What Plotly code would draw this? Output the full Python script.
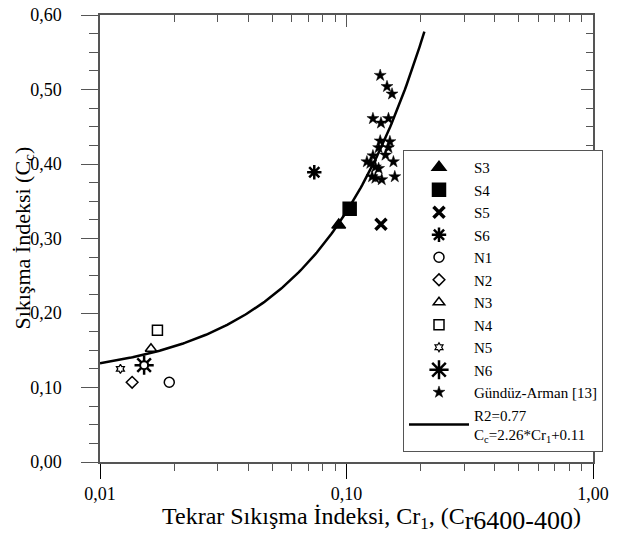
import plotly.graph_objects as go
import numpy as np

# ---- data ----
s3_x, s3_y = [0.093], [0.318]
s4_x, s4_y = [0.103], [0.340]
s5_x, s5_y = [0.138], [0.319]
s6_x, s6_y = [0.074], [0.389]
n1_x, n1_y = [0.0191], [0.107]
n2_x, n2_y = [0.0135], [0.107]
n3_x, n3_y = [0.0161], [0.152]
n4_x, n4_y = [0.0171], [0.177]
n5_x, n5_y = [0.0121], [0.125]
n6_x, n6_y = [0.0151], [0.130]
ga_x = [0.137, 0.146, 0.153, 0.128, 0.138, 0.148, 0.137, 0.150, 0.135, 0.148,
        0.144, 0.128, 0.121, 0.131, 0.135, 0.155, 0.127, 0.139, 0.157, 0.131, 0.125]
ga_y = [0.519, 0.504, 0.494, 0.461, 0.455, 0.461, 0.431, 0.430, 0.422, 0.422,
        0.412, 0.411, 0.403, 0.396, 0.394, 0.403, 0.383, 0.379, 0.383, 0.381, 0.401]
fit_a, fit_b = 2.26, 0.11
fit_xmin, fit_xmax = 0.01, 0.207

x_tickvals = [0.01, 0.1, 1.0]
x_ticktext = ["0,01", "0,10", "1,00"]
x_minor = [m * d for d in (0.01, 0.1) for m in range(2, 10)]

x_title = ("Tekrar Sıkışma İndeksi, Cr<sub>1</sub>, "
           "(C<sub><span style='font-size:26px'>r6400-400</span></sub>)")
y_title = "Sıkışma İndeksi (C<sub>c</sub>)"

FONT = "Liberation Serif, Times New Roman, serif"
BLACK = "black"
AX = "#555555"

fig = go.Figure()

def pts(x, y, name, symbol, size, filled=True, lw=1.5, show=True):
    fig.add_trace(go.Scatter(
        x=x, y=y, mode="markers", name=name, showlegend=show,
        marker=dict(symbol=symbol, size=size,
                    color=BLACK if filled else "white",
                    line=dict(color=BLACK, width=lw))))

pts(s3_x, s3_y, "S3", "triangle-up", 12)
pts(s4_x, s4_y, "S4", "square", 13)
pts(s5_x, s5_y, "S5", "x-thin-open", 11, lw=3.5)
pts(s6_x, s6_y, "S6", "asterisk-open", 12, lw=2.5)
pts(n1_x, n1_y, "N1", "circle-open", 10)
pts(n2_x, n2_y, "N2", "diamond-open", 9)
pts(n3_x, n3_y, "N3", "triangle-up-open", 10)
pts(n4_x, n4_y, "N4", "square-open", 10)
pts(n5_x, n5_y, "N5", "hexagram-open", 7, lw=1.2)
pts(n6_x, n6_y, "N6", "asterisk-open", 16, lw=2.5)
pts(n6_x, n6_y, "N6c", "circle", 8, filled=False, lw=2, show=False)
pts(ga_x, ga_y, "Gündüz-Arman [13]", "star", 9, lw=0.5)

fx = np.logspace(np.log10(fit_xmin), np.log10(fit_xmax), 200)
fy = fit_a * fx + fit_b
fig.add_trace(go.Scatter(
    x=fx, y=fy, mode="lines",
    name="R2=0.77<br>C<sub>c</sub>=2.26*Cr<sub>1</sub>+0.11",
    line=dict(color=BLACK, width=2.5)))

# dummy trace for mirror axes
fig.add_trace(go.Scatter(x=[0.5], y=[0.5], xaxis="x2", yaxis="y2", mode="markers",
                         marker=dict(opacity=0), showlegend=False, hoverinfo="skip"))

xr = [np.log10(0.01), np.log10(1.0)]
fig.update_layout(
    width=623, height=534,
    margin=dict(l=92, r=38, t=7, b=80, autoexpand=False),
    paper_bgcolor="white", plot_bgcolor="white",
    separators=",.",
    font=dict(family=FONT, size=18, color=BLACK),
    showlegend=True,
    legend=dict(x=0.6146, y=0.698, xanchor="left", yanchor="top",
                bgcolor="white", bordercolor=AX, borderwidth=1,
                font=dict(family=FONT, size=15, color=BLACK),
                itemwidth=60, tracegroupgap=0),
    xaxis=dict(type="log", range=xr, tickvals=x_tickvals, ticktext=x_ticktext,
               ticks="outside", ticklen=15, tickcolor=BLACK, tickwidth=1.2,
               showline=True, linecolor=AX, linewidth=1.5, automargin=False,
               showgrid=False, zeroline=False, ticklabelstandoff=0,
               ticklabeloverflow="allow",
               minor=dict(tickvals=x_minor, ticks="outside", ticklen=7,
                          tickcolor=AX, tickwidth=1.2, showgrid=False)),
    yaxis=dict(range=[0, 0.6], dtick=0.1, tick0=0, tickformat=".2f",
               ticks="outside", ticklen=17, tickcolor=AX, tickwidth=1.2,
               showline=True, linecolor=AX, linewidth=1.5, automargin=False,
               showgrid=False, zeroline=False, ticklabelstandoff=16,
               ticklabeloverflow="allow",
               minor=dict(dtick=0.025, ticks="outside", ticklen=9,
                          tickcolor=AX, tickwidth=1.2, showgrid=False)),
    xaxis2=dict(type="log", range=xr, overlaying="x", side="top", anchor="y2",
                tickvals=x_tickvals, showticklabels=False, automargin=False,
                ticks="inside", ticklen=12, tickcolor=AX, tickwidth=1.2,
                showline=True, linecolor=AX, linewidth=1.5, showgrid=False, zeroline=False,
                minor=dict(tickvals=x_minor, ticks="inside", ticklen=7,
                           tickcolor=AX, tickwidth=1.2, showgrid=False)),
    yaxis2=dict(range=[0, 0.6], dtick=0.1, tick0=0, overlaying="y", side="right", anchor="x2",
                showticklabels=False, automargin=False,
                ticks="inside", ticklen=12, tickcolor=AX, tickwidth=1.2,
                showline=True, linecolor=AX, linewidth=1.5, showgrid=False, zeroline=False,
                minor=dict(dtick=0.025, ticks="inside", ticklen=7,
                           tickcolor=AX, tickwidth=1.2, showgrid=False)),
    annotations=[
        dict(text=x_title, xref="paper", yref="paper", x=0.55, y=-0.128,
             xanchor="center", yanchor="middle", showarrow=False,
             font=dict(family=FONT, size=24, color=BLACK)),
        dict(text=y_title, xref="paper", yref="paper", x=-0.156, y=0.5,
             xanchor="center", yanchor="middle", showarrow=False, textangle=-90,
             font=dict(family=FONT, size=22, color=BLACK)),
    ],
)

fig.write_html("out.html")
